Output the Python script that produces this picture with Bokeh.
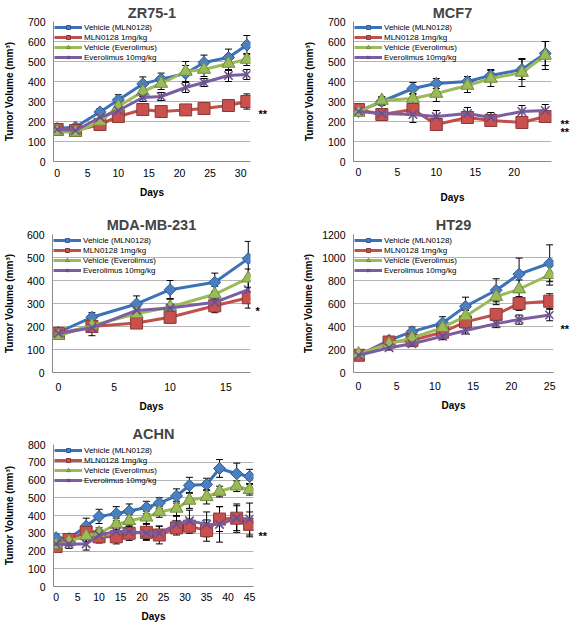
import math
from bokeh.plotting import figure
from bokeh.models import (ColumnDataSource, Whisker, TeeHead, FixedTicker, Range1d,
                          LinearAxis)
from bokeh.layouts import column, row
from bokeh.embed import file_html
from bokeh.resources import INLINE

FONT = "Liberation Sans"
SERIES = ["Vehicle (MLN0128)", "MLN0128 1mg/kg", "Vehicle (Everolimus)", "Everolimus 10mg/kg"]

# ---------------- data ----------------
zr_days = [0, 3, 7, 10, 14, 17, 21, 24, 28, 31]
zr_veh_mln = [165, 172, 248, 308, 388, 412, 440, 495, 520, 582]
zr_veh_mln_err = [12, 10, 16, 26, 35, 30, 40, 37, 42, 48]
zr_mln = [160, 155, 185, 225, 260, 250, 258, 265, 280, 300]
zr_mln_err = [15, 12, 15, 18, 20, 18, 22, 25, 30, 38]
zr_veh_eve = [150, 145, 200, 275, 350, 390, 450, 460, 490, 510]
zr_veh_eve_err = [12, 10, 15, 20, 25, 30, 50, 35, 35, 30]
zr_eve = [160, 155, 220, 255, 320, 325, 370, 395, 430, 435]
zr_eve_err = [15, 12, 15, 20, 20, 20, 25, 20, 30, 25]

mcf_days = [0, 3, 7, 10, 14, 17, 21, 24]
mcf_veh_mln = [250, 300, 365, 390, 400, 430, 460, 540]
mcf_veh_mln_err = [15, 20, 30, 25, 25, 30, 50, 60]
mcf_mln = [260, 235, 260, 185, 220, 205, 195, 225]
mcf_mln_err = [20, 25, 30, 25, 25, 30, 25, 25]
mcf_veh_eve = [245, 305, 315, 340, 380, 415, 445, 530]
mcf_veh_eve_err = [15, 20, 25, 40, 35, 40, 70, 70]
mcf_eve = [250, 240, 235, 225, 240, 220, 250, 255]
mcf_eve_err = [15, 20, 40, 30, 30, 25, 30, 30]

mda_days = [0, 3, 7, 10, 14, 17]
mda_veh_mln = [175, 240, 298, 360, 392, 495]
mda_veh_mln_err = [15, 20, 35, 40, 40, 75]
mda_mln = [170, 200, 215, 240, 290, 325]
mda_mln_err = [15, 20, 20, 25, 30, 45]
mda_veh_eve = [160, 205, 255, 285, 340, 410]
mda_veh_eve_err = [15, 20, 25, 35, 35, 40]
mda_eve = [170, 195, 270, 280, 305, 360]
mda_eve_err = [15, 35, 25, 40, 25, 40]

ht_days = [0, 4, 7, 11, 14, 18, 21, 25]
ht_veh_mln = [150, 280, 355, 430, 575, 715, 855, 950]
ht_veh_mln_err = [20, 30, 40, 55, 80, 100, 140, 160]
ht_mln = [150, 265, 280, 350, 440, 505, 600, 620]
ht_mln_err = [20, 25, 30, 40, 45, 50, 60, 65]
ht_veh_eve = [160, 250, 300, 390, 490, 660, 725, 850]
ht_veh_eve_err = [20, 25, 35, 40, 50, 70, 80, 90]
ht_eve = [150, 215, 250, 315, 365, 425, 460, 500]
ht_eve_err = [20, 20, 25, 30, 30, 35, 40, 50]

ac_days = [0, 3, 7, 10, 14, 17, 21, 24, 28, 31, 35, 38, 42, 45]
ac_veh_mln = [275, 270, 340, 395, 410, 425, 445, 470, 510, 570, 575, 665, 635, 620]
ac_veh_mln_err = [20, 25, 45, 40, 40, 40, 35, 30, 40, 45, 35, 50, 60, 40]
ac_mln = [225, 265, 305, 280, 280, 300, 305, 290, 330, 340, 315, 380, 385, 350]
ac_mln_err = [20, 25, 30, 35, 40, 40, 45, 50, 40, 40, 60, 70, 70, 70]
ac_veh_eve = [235, 255, 285, 300, 350, 370, 390, 420, 440, 485, 505, 535, 565, 545]
ac_veh_eve_err = [20, 25, 30, 30, 35, 35, 35, 30, 40, 45, 40, 30, 30, 30]
ac_eve = [240, 240, 240, 290, 310, 310, 300, 300, 350, 370, 350, 350, 385, 380]
ac_eve_err = [20, 25, 35, 30, 30, 30, 35, 40, 45, 60, 70, 100, 80, 90]

# significance marks (text, y position in data units)
zr_stars = [(236, "**")]
mcf_stars = [(186, "**"), (150, "**")]
mda_stars = [(266, "*")]
ht_stars = [(378, "**")]
ac_stars = [(283, "**")]

# ---------------- styles ----------------
LINE_COL = ["#3d72b9", "#c0504d", "#9bbb59", "#7a5e9f"]
MARKERS = ["square", "square", "triangle", "x"]
ANGLES = [math.pi / 4, 0, 0, 0]
FILL = ["#4a7fc0", "#c9504c", "#9bbb59", "#b9a8d0"]
EDGE = ["#2f5a93", "#8c3836", "#71893f", "#6a4f90"]
MSIZE = [8.5, 12, 13, 12]


def panel(title, days, vals, errs, xr, ymax, ystep, w, h,
          bl, br, bt, bb, title_sd, ylab_sd, xtick_sd, xlab_sd, stars, star_sd):
    p = figure(width=w, height=h, output_backend="svg", toolbar_location=None,
               x_range=Range1d(*xr), y_range=Range1d(0, ymax),
               min_border_left=bl, min_border_right=br,
               min_border_top=bt, min_border_bottom=bb)
    p.title.text = title
    p.title.text_font = FONT
    p.title.text_font_size = "14.5px"
    p.title.text_font_style = "bold"
    p.title.align = "center"
    p.title.standoff = title_sd
    p.outline_line_color = None
    p.background_fill_color = "white"
    p.border_fill_color = "white"

    p.xgrid.grid_line_color = None
    p.ygrid.grid_line_color = "#b4b4b4"
    p.ygrid.grid_line_width = 1
    p.yaxis.ticker = FixedTicker(ticks=list(range(0, ymax + 1, ystep)))
    p.xaxis.ticker = FixedTicker(ticks=list(range(0, int(xr[1]) + 1, 5)))

    for ax in (p.xaxis, p.yaxis):
        ax.axis_line_color = "#8a8a8a"
        ax.major_tick_line_color = None
        ax.minor_tick_line_color = None
        ax.major_tick_out = 0
        ax.major_tick_in = 0
        ax.minor_tick_out = 0
        ax.major_label_text_font = FONT
        ax.major_label_text_font_size = "10.5px"
        ax.major_label_text_color = "black"
        ax.axis_label_text_font = FONT
        ax.axis_label_text_font_style = "bold"
        ax.axis_label_text_font_size = "10px"
        ax.axis_label_text_color = "black"
    p.yaxis.axis_label = "Tumor Volume (mm³)"
    p.xaxis.axis_label = "Days"
    p.yaxis.major_label_standoff = 8
    p.xaxis.major_label_standoff = xtick_sd
    p.yaxis.axis_label_standoff = ylab_sd
    p.xaxis.axis_label_standoff = xlab_sd

    for i in range(4):
        v = vals[i]
        e = errs[i]
        src = ColumnDataSource(dict(
            x=days, y=v,
            upper=[a + b for a, b in zip(v, e)],
            lower=[a - b for a, b in zip(v, e)]))
        wk = Whisker(base="x", upper="upper", lower="lower", source=src,
                     line_color="black", line_width=1,
                     upper_head=TeeHead(size=7, line_color="black", line_width=1),
                     lower_head=TeeHead(size=7, line_color="black", line_width=1))
        p.add_layout(wk)
        p.line("x", "y", source=src, line_color=LINE_COL[i], line_width=3,
               legend_label=SERIES[i])
        if MARKERS[i] == "x":
            p.scatter("x", "y", source=src, marker="x", size=MSIZE[i],
                      line_color=EDGE[i], line_width=1.6, legend_label=SERIES[i])
        else:
            p.scatter("x", "y", source=src, marker=MARKERS[i], size=MSIZE[i],
                      angle=ANGLES[i],
                      fill_color=FILL[i], line_color=EDGE[i], line_width=1,
                      legend_label=SERIES[i])

    lg = p.legend[0]
    lg.location = "top_left"
    lg.margin = 1
    lg.padding = 0
    lg.spacing = 0
    lg.label_height = 10
    lg.glyph_height = 10
    lg.glyph_width = 28
    lg.label_standoff = 2
    lg.label_text_font = FONT
    lg.label_text_font_size = "8px"
    lg.label_text_color = "black"
    lg.background_fill_alpha = 0
    lg.border_line_alpha = 0

    # significance marks as labels of an invisible right-hand axis
    star_axis = LinearAxis(
        ticker=FixedTicker(ticks=[s[0] for s in stars]),
        major_label_overrides={s[0]: s[1] for s in stars},
        axis_line_color=None, major_tick_line_color=None,
        minor_tick_line_color=None, major_tick_out=0, major_tick_in=0,
        minor_tick_out=0, major_label_standoff=star_sd,
        major_label_text_font=FONT, major_label_text_font_size="11px",
        major_label_text_font_style="bold", major_label_text_color="black")
    p.add_layout(star_axis, "right")
    return p


p1 = panel("ZR75-1", zr_days,
           [zr_veh_mln, zr_mln, zr_veh_eve, zr_eve],
           [zr_veh_mln_err, zr_mln_err, zr_veh_eve_err, zr_eve_err],
           (-0.6, 31.6), 700, 100, 285, 205, 49, 35, 21, 41, 1, 10, 7, 7,
           zr_stars, 8)
p2 = panel("MCF7", mcf_days,
           [mcf_veh_mln, mcf_mln, mcf_veh_eve, mcf_eve],
           [mcf_veh_mln_err, mcf_mln_err, mcf_veh_eve_err, mcf_eve_err],
           (-0.64, 24.8), 700, 100, 287, 205, 68, 19, 21, 40, 1, 10, 6, 13,
           mcf_stars, 9)
p3 = panel("MDA-MB-231", mda_days,
           [mda_veh_mln, mda_mln, mda_veh_eve, mda_eve],
           [mda_veh_mln_err, mda_mln_err, mda_veh_eve_err, mda_eve_err],
           (-0.53, 17.2), 600, 100, 285, 210, 49, 35, 29, 43, 4, 9, 10, 7,
           mda_stars, 5)
p4 = panel("HT29", ht_days,
           [ht_veh_mln, ht_mln, ht_veh_eve, ht_eve],
           [ht_veh_mln_err, ht_mln_err, ht_veh_eve_err, ht_eve_err],
           (-0.65, 25.5), 1200, 200, 287, 210, 68, 19, 29, 42, 4, 5, 9, 7,
           ht_stars, 7)
p5 = panel("ACHN", ac_days,
           [ac_veh_mln, ac_mln, ac_veh_eve, ac_eve],
           [ac_veh_mln_err, ac_mln_err, ac_veh_eve_err, ac_eve_err],
           (-0.6, 45.9), 800, 100, 285, 209, 49, 32, 29, 35, 5, 10, 6, 7,
           ac_stars, 5)

layout = column(row(p1, p2), row(p3, p4), p5)
open("out.html", "w").write(file_html(layout, INLINE))
